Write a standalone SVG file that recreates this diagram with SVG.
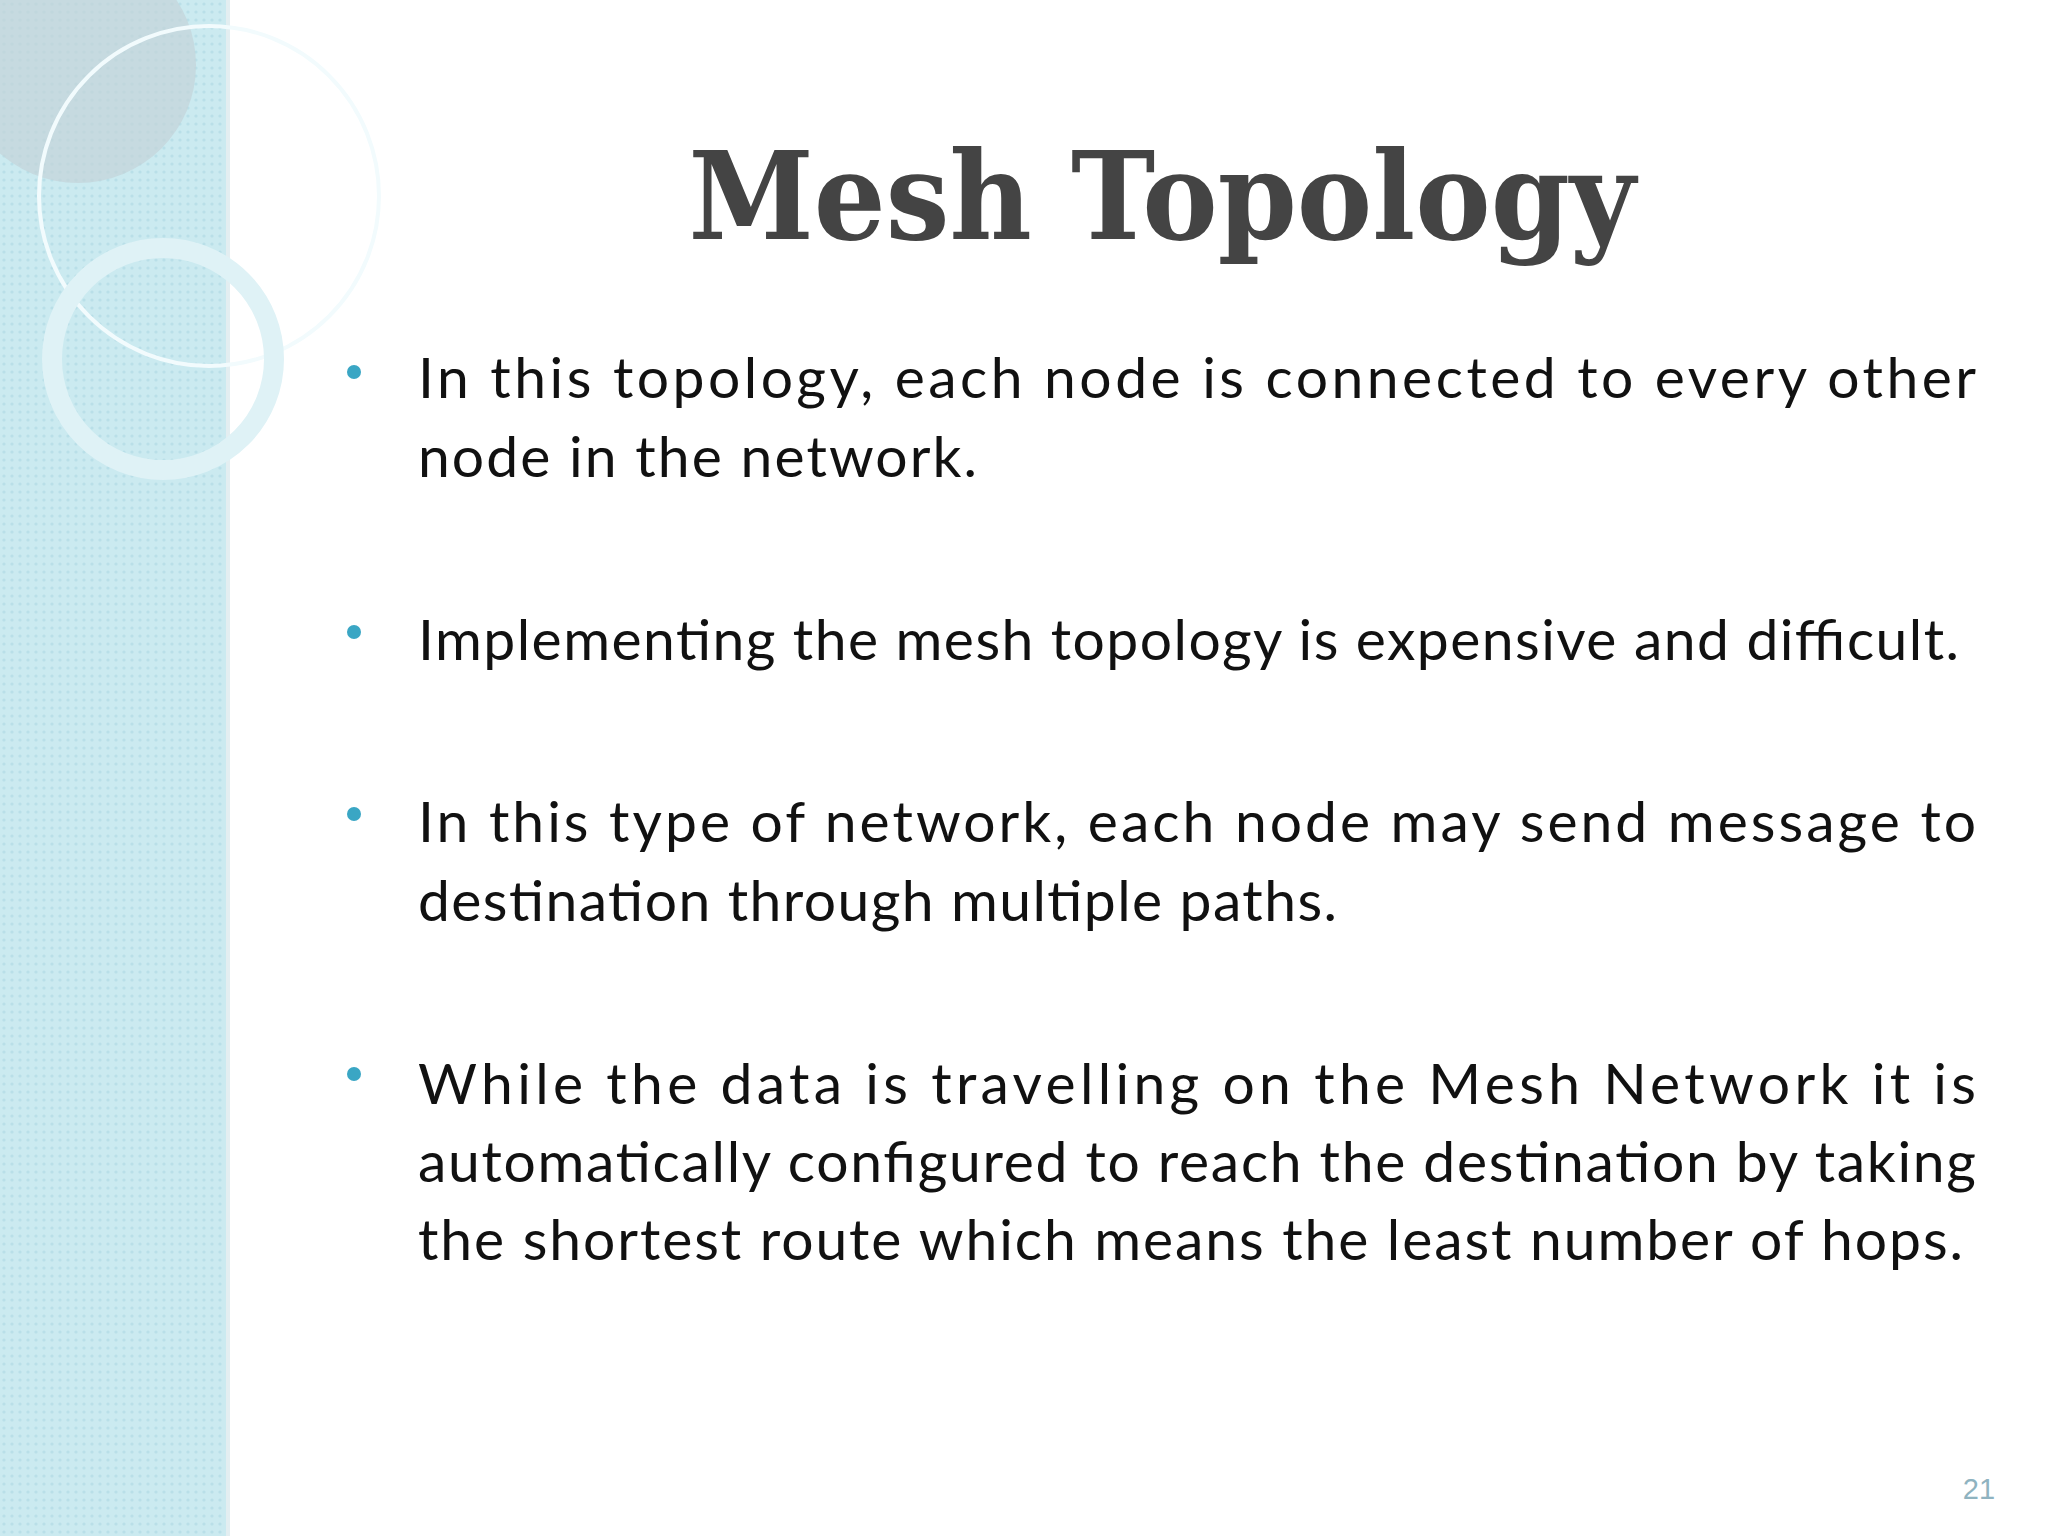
<svg xmlns="http://www.w3.org/2000/svg" width="2048" height="1536" viewBox="0 0 2048 1536">
<style>
.b{font-family:"Lato","Open Sans",sans-serif;font-size:57px;fill:#111}
.d{fill:#3aa6c4}
</style>
<defs>
<pattern id="p" width="8" height="8" patternUnits="userSpaceOnUse">
<rect width="8" height="8" fill="#cbeaf0"/>
<circle cx="4" cy="4" r="1.6" fill="#b9dfe8"/>
</pattern>
</defs>
<rect width="2048" height="1536" fill="#fff"/>
<g id="panel">
<rect x="0" y="0" width="226" height="1536" fill="url(#p)"/>
<rect x="226" y="0" width="4" height="1536" fill="#e3eef1"/>
<circle cx="78" cy="65" r="118" fill="#c3d3d8" opacity="0.7"/>
<circle cx="209" cy="196" r="170" fill="none" stroke="#f2fbfd" stroke-width="4"/>
<circle cx="163" cy="359" r="111" fill="none" stroke="#dff2f6" stroke-width="20"/>
</g>
<text x="1162" y="239" text-anchor="middle" font-family="DejaVu Serif,serif" font-weight="bold" font-size="122" fill="#444" textLength="947" lengthAdjust="spacingAndGlyphs">Mesh Topology</text>
<g id="bullets">
<circle class="d" cx="354" cy="372" r="7"/>
<circle class="d" cx="354" cy="632" r="7"/>
<circle class="d" cx="354" cy="814" r="7"/>
<circle class="d" cx="354" cy="1074" r="7"/>
</g>
<g id="text">
<text class="b" x="418" y="398" textLength="1558" lengthAdjust="spacing">In this topology, each node is connected to every other</text>
<text class="b" x="418" y="477" textLength="559" lengthAdjust="spacing">node in the network.</text>
<text class="b" x="418" y="660" textLength="1541" lengthAdjust="spacing">Implementing the mesh topology is expensive and difficult.</text>
<text class="b" x="418" y="842" textLength="1558" lengthAdjust="spacing">In this type of network, each node may send message to</text>
<text class="b" x="418" y="921" textLength="919" lengthAdjust="spacing">destination through multiple paths.</text>
<text class="b" x="418" y="1104" textLength="1558" lengthAdjust="spacing">While the data is travelling on the Mesh Network it is</text>
<text class="b" x="418" y="1182" textLength="1558" lengthAdjust="spacing">automatically configured to reach the destination by taking</text>
<text class="b" x="418" y="1260" textLength="1545" lengthAdjust="spacing">the shortest route which means the least number of hops.</text>
</g>
<text x="1979" y="1499" font-family="Liberation Sans,sans-serif" font-size="29" fill="#8fb3c0" text-anchor="middle">21</text>
</svg>
